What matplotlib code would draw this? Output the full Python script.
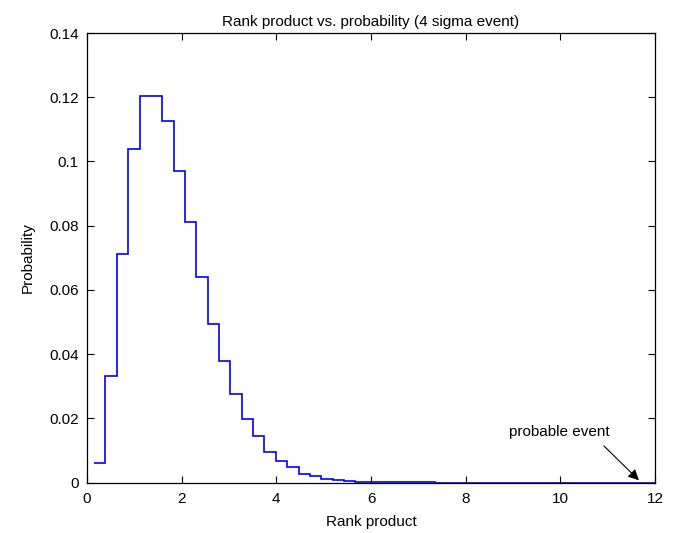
import numpy as np
import matplotlib
matplotlib.use("Agg")
import matplotlib.pyplot as plt

# Histogram of rank products: bin start, bin width, probability per bin
bin_start = 0.15
bin_width = 0.24
probability = [
    0.0060, 0.0333, 0.0711, 0.1040, 0.1205, 0.1205, 0.1127, 0.0971, 0.0810, 0.0640,
    0.0494, 0.0380, 0.0276, 0.0199, 0.0146, 0.0096, 0.0068, 0.0048, 0.0028, 0.0019,
    0.0011, 0.0007, 0.0004, 0.0003, 0.0002, 0.0001, 0.0001, 0.0001, 0.0001, 0.0001,
    0.0, 0.0, 0.0, 0.0, 0.0, 0.0, 0.0, 0.0, 0.0, 0.0,
    0.0, 0.0, 0.0, 0.0, 0.0, 0.0, 0.0, 0.0, 0.0, 0.0,
]
x_ticks = [0, 2, 4, 6, 8, 10, 12]
y_ticks = [0, 0.02, 0.04, 0.06, 0.08, 0.1, 0.12, 0.14]
y_tick_labels = ["0", "0.02", "0.04", "0.06", "0.08", "0.1", "0.12", "0.14"]

plt.rcParams["font.family"] = ["Liberation Sans", "DejaVu Sans"]

fig = plt.figure(figsize=(6.79, 5.33), dpi=100)
ax = fig.add_axes([0.1281, 0.0947, 0.8366, 0.8433])

edges = bin_start + bin_width * np.arange(len(probability) + 1)
ax.stairs(probability, edges, color="#0000ff", linewidth=1.2, baseline=None)

ax.set_xlim(0, 12)
ax.set_ylim(0, 0.14)
ax.set_xticks(x_ticks)
ax.set_xticklabels([str(t) for t in x_ticks])
ax.set_yticks(y_ticks)
ax.set_yticklabels(y_tick_labels)
ax.tick_params(direction="in", length=5, width=0.8, top=True, right=True,
               labelsize=11, colors="black")
ax.tick_params(axis="x", pad=7)
ax.tick_params(axis="y", pad=6)
for s in ax.spines.values():
    s.set_linewidth(0.9)

ax.set_title("Rank product vs. probability (4 sigma event)", fontsize=11, pad=5)
ax.set_xlabel("Rank product", fontsize=11, labelpad=6)
ax.set_ylabel("Probability", fontsize=11, labelpad=10)

ax.text(9.97, 0.0158, "probable event", ha="center", va="center", fontsize=11)
ax.annotate("", xy=(11.66, 0.0007), xytext=(10.92, 0.0114),
            arrowprops=dict(arrowstyle="-|>", color="black", lw=0.8,
                            mutation_scale=16, shrinkA=0, shrinkB=0))

fig.savefig("out.png", dpi=100)
